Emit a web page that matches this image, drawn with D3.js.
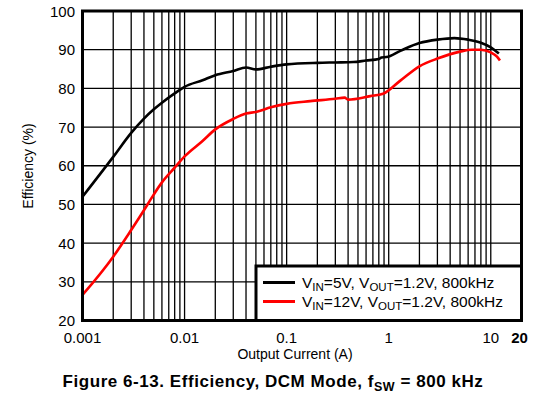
<!DOCTYPE html>
<html>
<head>
<meta charset="utf-8">
<script src="https://cdn.jsdelivr.net/npm/d3@7"></script>
<style>
  body { margin: 0; background: #fff; }
  text { font-family: "Liberation Sans", Arial, sans-serif; fill: #000; }
</style>
</head>
<body>
<svg id="chart" width="552" height="394"></svg>
<script>
// Efficiency vs output current, DCM mode
const current_5v = [0.001, 0.002, 0.003, 0.004, 0.005, 0.006, 0.008, 0.01, 0.015, 0.02, 0.03, 0.04, 0.05, 0.07, 0.1, 0.2, 0.3, 0.45, 0.6, 0.8, 0.85, 0.95, 1.3, 2, 3, 4.4, 6, 8, 10, 11, 12];
const eff_5v = [52, 62.3, 68.5, 72.2, 74.6, 76.3, 78.7, 80.4, 82.1, 83.4, 84.5, 85.4, 84.9, 85.6, 86.2, 86.6, 86.7, 86.8, 87.2, 87.6, 88.0, 88.1, 89.7, 91.7, 92.6, 93.0, 92.6, 91.8, 90.6, 89.8, 89.0];
const current_12v = [0.001, 0.002, 0.003, 0.004, 0.005, 0.006, 0.008, 0.01, 0.015, 0.02, 0.03, 0.04, 0.05, 0.07, 0.1, 0.17, 0.3, 0.37, 0.4, 0.66, 0.88, 1.3, 2, 3, 5, 6.5, 8, 10, 11.5, 12.3];
const eff_12v = [26.6, 36.5, 43.4, 48.5, 52.6, 55.7, 59.5, 62.4, 66.4, 69.4, 72.1, 73.5, 73.9, 75.1, 76.0, 76.7, 77.3, 77.6, 77.1, 78.0, 78.6, 82.0, 85.7, 87.7, 89.5, 90.0, 90.0, 89.3, 88.2, 87.2];
const x_ticks = [0.001, 0.01, 0.1, 1, 10];
const x_tick_labels = ["0.001", "0.01", "0.1", "1", "10"];
const y_ticks = [20, 30, 40, 50, 60, 70, 80, 90, 100];

const svg = d3.select("#chart");
const plot_left = 82.5, plot_right = 521.5, plot_top = 11, plot_bottom = 320.5;

const x = d3.scaleLog().domain([0.001, 20]).range([plot_left, plot_right]);
const y = d3.scaleLinear().domain([20, 100]).range([plot_bottom, plot_top]);

// grid lines: every log minor on x, every 10 on y
const x_grid = [];
[0.001, 0.01, 0.1, 1, 10].forEach(d => {
    for (let k = 1; k <= 9; k++) {
        const v = d * k;
        if (v > 0.001 && v < 20) x_grid.push(v);
    }
});
svg.append("g").selectAll("line").data(x_grid).join("line")
    .attr("x1", d => x(d)).attr("x2", d => x(d))
    .attr("y1", plot_top).attr("y2", plot_bottom)
    .attr("stroke", "#000").attr("stroke-width", 1.3);
svg.append("g").selectAll("line").data(y_ticks.slice(1, -1)).join("line")
    .attr("x1", plot_left).attr("x2", plot_right)
    .attr("y1", d => y(d)).attr("y2", d => y(d))
    .attr("stroke", "#000").attr("stroke-width", 1.3);

// curves
const line = d3.line()
    .x(d => x(d[0]))
    .y(d => y(d[1]))
    .curve(d3.curveMonotoneX);
svg.append("path")
    .attr("d", line(d3.zip(current_5v, eff_5v)))
    .attr("fill", "none").attr("stroke", "#000").attr("stroke-width", 2.6);
svg.append("path")
    .attr("d", line(d3.zip(current_12v, eff_12v)))
    .attr("fill", "none").attr("stroke", "#ff0000").attr("stroke-width", 2.6);

// plot border
svg.append("rect")
    .attr("x", plot_left).attr("y", plot_top)
    .attr("width", plot_right - plot_left).attr("height", plot_bottom - plot_top)
    .attr("fill", "none").attr("stroke", "#000").attr("stroke-width", 3);

// y tick labels
svg.append("g").selectAll("text").data(y_ticks).join("text")
    .attr("x", 75).attr("y", d => y(d) + 5.5)
    .attr("text-anchor", "end")
    .style("font-size", "15px")
    .text(d => d);

// x tick labels
svg.append("g").selectAll("text").data(x_ticks).join("text")
    .attr("x", d => x(d)).attr("y", 343)
    .attr("text-anchor", "middle")
    .style("font-size", "15px")
    .text((d, i) => x_tick_labels[i]);
svg.append("text")
    .attr("x", x(20) - 2).attr("y", 343)
    .attr("text-anchor", "middle")
    .style("font-size", "15px").style("font-weight", "bold")
    .text("20");

// axis titles
svg.append("text")
    .attr("x", 295).attr("y", 359)
    .attr("text-anchor", "middle")
    .style("font-size", "14px")
    .text("Output Current (A)");
svg.append("text")
    .attr("transform", "translate(33,166) rotate(-90)")
    .attr("text-anchor", "middle")
    .style("font-size", "14px")
    .text("Efficiency (%)");

// legend
svg.append("rect")
    .attr("x", 256).attr("y", 266)
    .attr("width", plot_right - 256).attr("height", plot_bottom - 266)
    .attr("fill", "#fff").attr("stroke", "#000").attr("stroke-width", 3);
const legend_rows = [
    {vin: "5V", color: "#000"},
    {vin: "12V", color: "#ff0000"}
];
legend_rows.forEach((r, i) => {
    const ly = 282.5 + i * 19;
    svg.append("line")
        .attr("x1", 263).attr("x2", 295)
        .attr("y1", ly).attr("y2", ly)
        .attr("stroke", r.color).attr("stroke-width", 3);
    const t = svg.append("text")
        .attr("x", 302).attr("y", ly + 5.5)
        .style("font-size", "15.5px");
    t.append("tspan").text("V");
    t.append("tspan").attr("dy", 3).style("font-size", "11.5px").text("IN");
    t.append("tspan").attr("dy", -3).text("=" + r.vin + ", V");
    t.append("tspan").attr("dy", 3).style("font-size", "11.5px").text("OUT");
    t.append("tspan").attr("dy", -3).text("=1.2V, 800kHz");
});

// figure caption
const cap = svg.append("text")
    .attr("x", 273).attr("y", 387)
    .attr("text-anchor", "middle")
    .style("font-size", "17px").style("font-weight", "bold")
    .style("letter-spacing", "0.55px");
cap.append("tspan").text("Figure 6-13. Efficiency, DCM Mode, f");
cap.append("tspan").attr("dy", 4).style("font-size", "12.5px").text("SW");
cap.append("tspan").attr("dy", -4).text(" = 800 kHz");
</script>
</body>
</html>
